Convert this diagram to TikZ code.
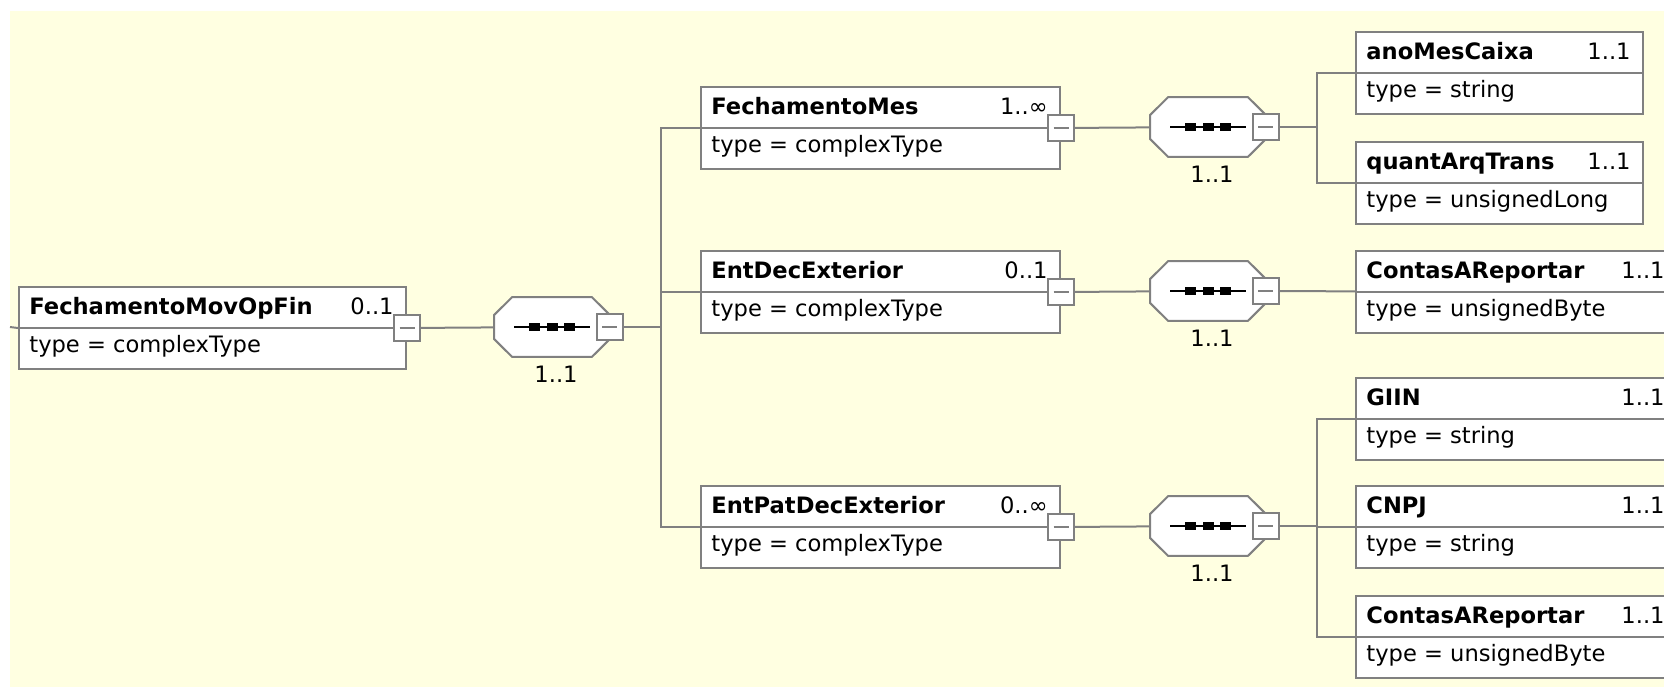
\documentclass[tikz,border=0pt]{standalone}
\usepackage{fontspec}
\setmainfont{DejaVu Sans}
\usetikzlibrary{calc}

\definecolor{bgyellow}{RGB}{255,255,225}
\definecolor{edgegray}{RGB}{128,128,128}

\begin{document}
\begin{tikzpicture}[x=0.5pt, y=-0.5pt,
  font=\fontsize{11.3}{13.5}\selectfont,
  wire/.style={draw=edgegray, line width=1pt},
  elembox/.style={draw=edgegray, line width=1pt, fill=white, rectangle, minimum height=41pt, inner sep=0pt, anchor=north west},
  collapse/.style={draw=edgegray, line width=1pt, fill=white, rectangle, minimum size=13pt, inner sep=0pt, text=edgegray},
  seqbox/.style={rectangle, minimum width=57.5pt, minimum height=29.5pt, inner sep=0pt},
  octo/.style={draw=edgegray, line width=1pt, fill=white, line join=miter}
]
\useasboundingbox (0,0) rectangle (1664,687);
\fill[bgyellow] (10,11) rectangle (1664,687);

% element boxes
\foreach \nm/\x/\y/\w/\ttl/\mul/\typ in {
  root/18/286/387/FechamentoMovOpFin/0..1/complexType,
  mes/700/86/359/FechamentoMes/1..∞/complexType,
  decext/700/250/359/EntDecExterior/0..1/complexType,
  patdec/700/485/359/EntPatDecExterior/0..∞/complexType,
  anomes/1355/31/287/anoMesCaixa/1..1/string,
  quant/1355/141/287/quantArqTrans/1..1/unsignedLong,
  contasa/1355/250/321/ContasAReportar/1..1/unsignedByte,
  giin/1355/377/321/GIIN/1..1/string,
  cnpj/1355/485/321/CNPJ/1..1/string,
  contasb/1355/595/321/ContasAReportar/1..1/unsignedByte} {
  \node[elembox, minimum width=\w*0.5pt] (\nm) at (\x,\y) {};
  \draw[wire] (\nm.west) -- (\nm.east);
  \node[anchor=base west, inner sep=0pt] (\nm-name) at ($(\nm.north west)+(11,28)$) {\bfseries \ttl};
  \node[anchor=base east, inner sep=0pt] (\nm-occ) at ($(\nm.north east)+(-13,28)$) {\mul};
  \node[anchor=base west, inner sep=0pt] (\nm-type) at ($(\nm.west)+(11,24)$) {type = \typ};
}

% sequence compositors
\foreach \nm/\x/\y in {seqa/552/327, seqb/1208/127, seqc/1208/291, seqd/1208/526} {
  \node[seqbox] (\nm) at (\x,\y) {};
  \draw[octo] ($(\nm.west)+(0,-12)$) -- ($(\nm.north west)+(18,0)$)
    -- ($(\nm.north east)+(-18,0)$) -- ($(\nm.east)+(0,-12)$)
    -- ($(\nm.east)+(0,12)$) -- ($(\nm.south east)+(-18,0)$)
    -- ($(\nm.south west)+(18,0)$) -- ($(\nm.west)+(0,12)$) -- cycle;
  \draw[line width=1pt] ($(\nm)+(-38,0)$) -- ($(\nm)+(38,0)$);
  \foreach \d in {-17.5,0,17.5}
    \fill ($(\nm)+(\d-5.5,-4)$) rectangle ($(\nm)+(\d+5.5,4)$);
  \node[anchor=base] (\nm-occ) at ($(\nm)+(4,55)$) {1..1};
}

% collapse buttons
\foreach \nm in {root, mes, decext, patdec, seqa, seqb, seqc, seqd}
  \node[collapse] (\nm-btn) at (\nm.east) {\rule{7.5pt}{0.8pt}};

% connectors
\coordinate (in) at (10,327);
\coordinate (busa) at (661,327);
\coordinate (busb) at (1317,127);
\coordinate (busd) at (1317,526);
\draw[wire] (in) -- (root.west);
\draw[wire] (root-btn) -- (seqa);
\foreach \ch in {mes, decext, patdec}
  \draw[wire] (seqa-btn) -- (busa) |- (\ch);
\draw[wire] (mes-btn) -- (seqb);
\draw[wire] (decext-btn) -- (seqc);
\draw[wire] (patdec-btn) -- (seqd);
\foreach \ch in {anomes, quant}
  \draw[wire] (seqb-btn) -- (busb) |- (\ch);
\draw[wire] (seqc-btn) -- (contasa);
\foreach \ch in {giin, cnpj, contasb}
  \draw[wire] (seqd-btn) -- (busd) |- (\ch);
\end{tikzpicture}
\end{document}
